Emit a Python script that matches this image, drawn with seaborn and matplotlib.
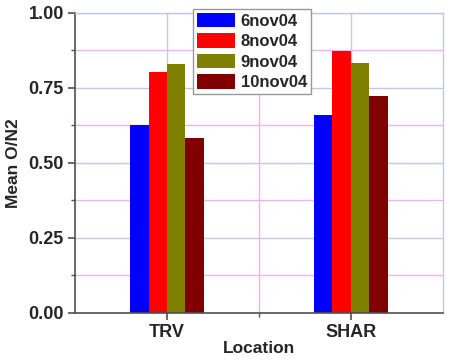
import pandas as pd
import seaborn as sns
import matplotlib.pyplot as plt
from matplotlib.ticker import MultipleLocator

locations = ['TRV', 'SHAR']
dates = ['6nov04', '8nov04', '9nov04', '10nov04']
trv_vals = [0.627, 0.804, 0.830, 0.583]
shar_vals = [0.660, 0.874, 0.834, 0.723]
colors = ['#0000FF', '#FF0000', '#808000', '#800000']

dannie = pd.DataFrame({
    'Location': ['TRV'] * 4 + ['SHAR'] * 4,
    'Date': dates * 2,
    'Mean': trv_vals + shar_vals,
})

sns.set_style('white')
plt.rcParams['font.family'] = ['Liberation Sans', 'DejaVu Sans']
plt.rcParams['font.weight'] = 'bold'

fig = plt.figure(figsize=(4.5, 3.6), dpi=100)
ax = fig.add_axes([0.1667, 0.1306, 0.8173, 0.8334])

sns.barplot(data=dannie, x='Location', y='Mean', hue='Date', order=locations,
            hue_order=dates, palette=colors, width=0.4, saturation=1,
            linewidth=0, ax=ax)

ax.set_xlim(-0.5, 1.5)
ax.set_ylim(0, 1.0)
ax.yaxis.set_major_locator(MultipleLocator(0.25))
ax.yaxis.set_minor_locator(MultipleLocator(0.125))
ax.set_xticks([0, 1])
ax.set_xticks([0.5], minor=True)
ax.set_xticklabels(locations)
ax.yaxis.set_major_formatter(plt.FormatStrFormatter('%.2f'))

# сетка: основная сиреневая, дополнительная розовая
ax.grid(True, which='major', color='#c6c6e6', linewidth=1)
ax.grid(True, which='minor', color='#f0b4f0', linewidth=1)
ax.set_axisbelow(True)

for s in ['left', 'bottom']:
    ax.spines[s].set_color('#505050')
    ax.spines[s].set_linewidth(1.2)
for s in ['top', 'right']:
    ax.spines[s].set_color('#c6c6e6')
    ax.spines[s].set_linewidth(1)

ax.tick_params(axis='both', which='major', direction='out', length=5, width=1.2,
               color='#505050', labelsize=13, pad=3)
ax.tick_params(axis='both', which='minor', direction='out', length=3, width=1,
               color='#505050')
ax.tick_params(left=True, bottom=True, which='both')

ax.set_xlabel('Location', fontsize=12.5, fontweight='bold', labelpad=0)
ax.set_ylabel('Mean O/N2', fontsize=12.5, fontweight='bold', labelpad=5)

ax.legend(title=None, loc='upper left', bbox_to_anchor=(193 / 450, 1 - 9 / 360),
          bbox_transform=fig.transFigure, fontsize=12, frameon=True,
          fancybox=False, edgecolor='#999999', framealpha=1,
          handlelength=2.3, handleheight=0.95, handletextpad=0.35,
          labelspacing=0.28, borderpad=0.22, borderaxespad=0)

plt.savefig('out.png', dpi=100)
